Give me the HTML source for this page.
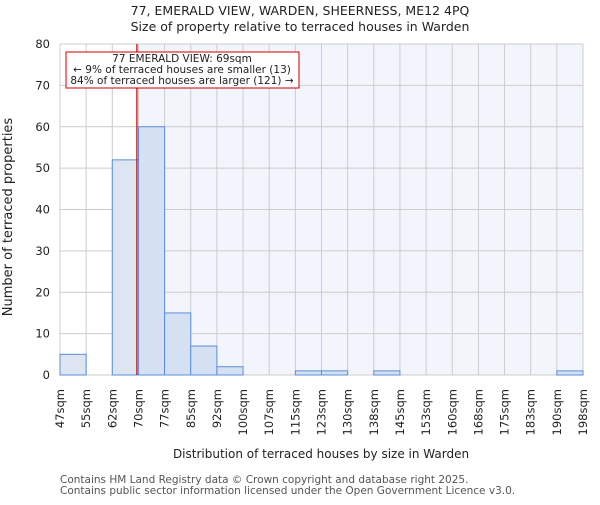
<!DOCTYPE html>
<html><head><meta charset="utf-8"><style>
body{margin:0;background:#fff}
svg{font-family:"DejaVu Sans","Liberation Sans",sans-serif}
</style></head><body>
<svg id="chart" width="600" height="500">
<text x="300" y="15" text-anchor="middle" font-size="12.5" fill="#222">77, EMERALD VIEW, WARDEN, SHEERNESS, ME12 4PQ</text>
<text x="300" y="31" text-anchor="middle" font-size="12.5" fill="#222">Size of property relative to terraced houses in Warden</text>
<rect x="137" y="44" width="446" height="331" fill="#f3f5fd"/>
<g id="grid"></g>
<g id="bars"></g>
<g id="axes"></g>
<text transform="translate(12,217) rotate(-90)" text-anchor="middle" font-size="13" fill="#222">Number of terraced properties</text>
<text x="321" y="458" text-anchor="middle" font-size="12" fill="#222">Distribution of terraced houses by size in Warden</text>
<text x="60" y="483" font-size="10.5" fill="#555">Contains HM Land Registry data © Crown copyright and database right 2025.</text>
<text x="60" y="494" font-size="10.5" fill="#555">Contains public sector information licensed under the Open Government Licence v3.0.</text>
<line id="marker" y1="44" y2="375" stroke="#cc0000" stroke-width="1.2"/>
<rect x="66" y="52" width="233" height="36" fill="#fff" stroke="#cc0000" stroke-width="1"/>
<text x="182" y="62" text-anchor="middle" font-size="10.5" fill="#222">77 EMERALD VIEW: 69sqm</text>
<text x="182" y="73" text-anchor="middle" font-size="10.5" fill="#222">← 9% of terraced houses are smaller (13)</text>
<text x="182" y="84" text-anchor="middle" font-size="10.5" fill="#222">84% of terraced houses are larger (121) →</text>
</svg>
<script>
const binLabels=["47sqm","55sqm","62sqm","70sqm","77sqm","85sqm","92sqm","100sqm","107sqm","115sqm","123sqm","130sqm","138sqm","145sqm","153sqm","160sqm","168sqm","175sqm","183sqm","190sqm","198sqm"];
const counts=[5,0,52,60,15,7,2,0,0,1,1,0,1,0,0,0,0,0,0,1];
const yTicks=[0,10,20,30,40,50,60,70,80];
const markerBin=2.94;
const NS="http://www.w3.org/2000/svg";
const X0=60,X1=583,Y0=375,Y1=44,YMAX=80;
const bw=(X1-X0)/counts.length;
const xs=i=>X0+i*bw;
const ys=v=>Y0-(v/YMAX)*(Y0-Y1);
function mk(tag,attrs,parent){const e=document.createElementNS(NS,tag);for(const k in attrs)e.setAttribute(k,attrs[k]);parent.appendChild(e);return e;}
const grid=document.getElementById('grid'),bars=document.getElementById('bars'),axes=document.getElementById('axes');
binLabels.forEach((l,i)=>{
  const g=mk('line',{x1:xs(i),x2:xs(i),y1:Y1,y2:Y0,stroke:'#cccccc'},grid);
  
  
  const t=mk('text',{transform:`translate(${xs(i)+4},389) rotate(-90)`,'text-anchor':'end','font-size':'11.5',fill:'#222'},axes);
  t.textContent=l;
  
  
});
yTicks.forEach(v=>{
  const g=mk('line',{x1:X0,x2:X1,y1:ys(v),y2:ys(v),stroke:'#cccccc'},grid);
  
  
  const t=mk('text',{x:50,y:ys(v)+4,'text-anchor':'end','font-size':'11.5',fill:'#222'},axes);
  t.textContent=v;
  
  
});
counts.forEach((c,i)=>{
  if(c<=0)return;
  const left=i<markerBin;
  const r=mk('rect',{x:xs(i),y:ys(c),width:bw,height:Y0-ys(c),fill:left?'#dde5f3':'#d6e0f3',stroke:'#5b8fd6','stroke-width':1},bars);
  
  
});
const m=document.getElementById('marker');
m.setAttribute('x1',xs(markerBin));m.setAttribute('x2',xs(markerBin));
</script>
</body></html>
